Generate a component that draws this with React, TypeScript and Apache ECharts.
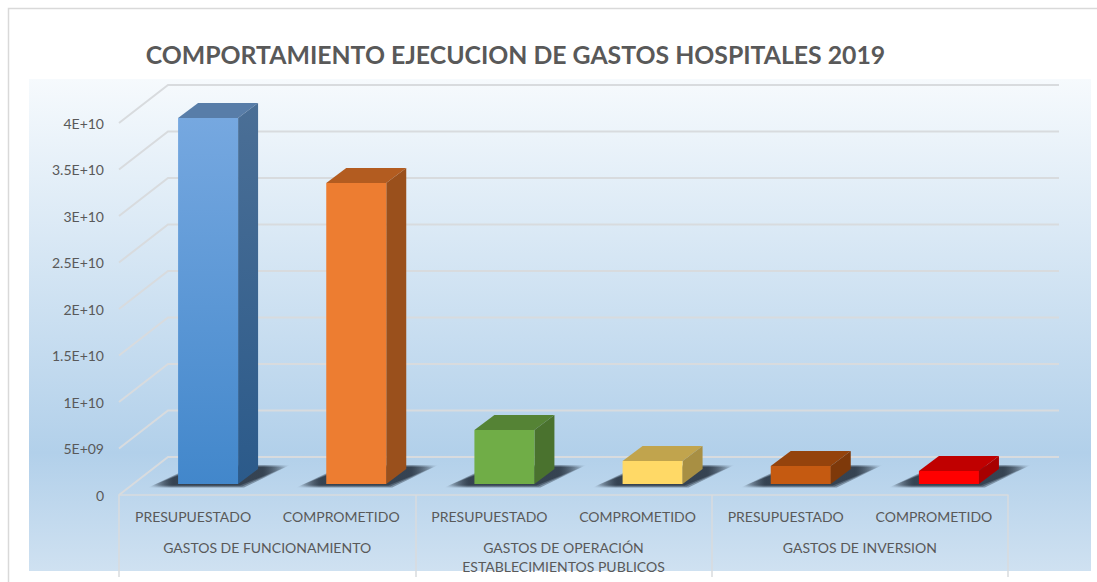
import React, { useEffect, useRef } from "react";
import * as echarts from "echarts";

const TITLE = "COMPORTAMIENTO EJECUCION DE GASTOS HOSPITALES 2019";
const concepts = ["PRESUPUESTADO", "COMPROMETIDO", "PRESUPUESTADO", "COMPROMETIDO", "PRESUPUESTADO", "COMPROMETIDO"];
const groups = ["GASTOS DE FUNCIONAMIENTO", "GASTOS DE OPERACIÓN\nESTABLECIMIENTOS PUBLICOS", "GASTOS DE INVERSION"];
const values = [3.935e10, 3.237e10, 5.8e9, 2.47e9, 1.94e9, 1.4e9];
const yTickValues = [0, 5e9, 1e10, 1.5e10, 2e10, 2.5e10, 3e10, 3.5e10, 4e10];
const yTickLabels = ["0", "5E+09", "1E+10", "1.5E+10", "2E+10", "2.5E+10", "3E+10", "3.5E+10", "4E+10"];

const faces = [
  { front: ["#76a8e0", "#4287cb"], side: ["#4b6f96", "#2b5a8a"], top: "#587da8" },
  { front: ["#ed7d31", "#ed7d31"], side: ["#9a501c", "#9a501c"], top: "#b35c20" },
  { front: ["#70ad47", "#70ad47"], side: ["#4a722e", "#4a722e"], top: "#558335" },
  { front: ["#ffd966", "#ffd966"], side: ["#a88f43", "#a88f43"], top: "#c1a44d" },
  { front: ["#c55a11", "#c55a11"], side: ["#7e390a", "#7e390a"], top: "#94430c" },
  { front: ["#ff0000", "#ff0000"], side: ["#a80000", "#a80000"], top: "#c00000" },
];

const FONT = "Lato";
const TEXT = "#595959";
const LINE = "#d8dbde";
const WALL_DX = 49;
const WALL_DY = -38;
const BAR_DX = 20;
const BAR_DY = -15;
const BAR_SHIFT_X = 15;
const BAR_SHIFT_Y = -11;
const BAR_RATIO = 60 / 148.17;

const frameItem = (params: any, api: any) => {
  const cs = params.coordSys;
  const p = api.coord([0, api.value(1)]);
  const y = p[1];
  return {
    type: "polyline",
    shape: {
      points: [
        [cs.x, y],
        [cs.x + WALL_DX, y + WALL_DY],
        [cs.x + cs.width + WALL_DX + 2, y + WALL_DY],
      ],
    },
    style: { fill: "none", stroke: LINE, lineWidth: 2 },
    silent: true,
  };
};

const barItem = (params: any, api: any) => {
  const i = api.value(0);
  const top = api.coord([i, api.value(1)]);
  const base = api.coord([i, 0]);
  const w = api.size([1, 0])[0] * BAR_RATIO;
  const l = top[0] - w / 2 + BAR_SHIFT_X;
  const r = l + w;
  const t = top[1] + BAR_SHIFT_Y;
  const b = base[1] + BAR_SHIFT_Y;
  const f = faces[params.dataIndex];
  const grad = (c: string[]) => new echarts.graphic.LinearGradient(0, 0, 0, 1, [
    { offset: 0, color: c[0] },
    { offset: 1, color: c[1] },
  ]);
  const fade = (dark: number) => new echarts.graphic.LinearGradient(0, 0, 1, 0, [
    { offset: 0, color: "rgba(38,50,64,0)" },
    { offset: 0.16, color: `rgba(38,50,64,${dark})` },
    { offset: 0.82, color: `rgba(38,50,64,${dark})` },
    { offset: 1, color: "rgba(38,50,64,0)" },
  ]);
  const shadow = (grow: number, dark: number) => ({
    type: "polygon",
    shape: {
      points: [
        [l - 28 - grow, b + 2.5 + grow / 2],
        [r + 4 + grow, b + 2.5 + grow / 2],
        [r + 50 + grow, b - 18 - grow / 2],
        [l + 20 - grow, b - 18 - grow / 2],
      ],
    },
    style: { fill: fade(dark) },
  });
  return {
    type: "group",
    silent: true,
    children: [
      shadow(2, 0.4),
      shadow(0, 0.5),
      shadow(-2, 0.65),
      {
        type: "polygon",
        shape: { points: [[l, t], [l + BAR_DX, t + BAR_DY], [r + BAR_DX, t + BAR_DY], [r, t]] },
        style: { fill: f.top },
      },
      {
        type: "polygon",
        shape: { points: [[r, t], [r + BAR_DX, t + BAR_DY], [r + BAR_DX, b + BAR_DY], [r, b]] },
        style: { fill: grad(f.side) },
      },
      {
        type: "rect",
        shape: { x: l, y: t, width: w, height: b - t },
        style: { fill: grad(f.front) },
      },
    ],
  };
};

export default function App() {
  const ref = useRef<HTMLDivElement>(null);
  useEffect(() => {
    document.body.style.margin = "0";
    const chart = echarts.init(ref.current!, null, { renderer: "svg" });
    chart.setOption({
      animation: false,
      backgroundColor: "#ffffff",
      title: {
        text: TITLE,
        left: 510.5,
        top: 37,
        textAlign: "center",
        textStyle: { fontFamily: FONT, fontWeight: "bold", fontSize: 24.8, color: TEXT },
      },
      graphic: [
        {
          type: "rect",
          z: -10,
          silent: true,
          shape: { x: 8.5, y: 8.5, width: 1120, height: 600 },
          style: { fill: "#ffffff", stroke: "#d9d9d9", lineWidth: 1.5 },
        },
        {
          type: "rect",
          z: -9,
          silent: true,
          shape: { x: 29, y: 79, width: 1062, height: 492 },
          style: {
            fill: new echarts.graphic.LinearGradient(0, 0, 0, 1, [
              { offset: 0, color: "#f6fafd" },
              { offset: 0.76, color: "#b2d0ea" },
              { offset: 1, color: "#cfe1f1" },
            ]),
          },
        },
      ],
      grid: { left: 119, top: 123, width: 889, height: 372 },
      xAxis: [
        {
          type: "category",
          position: "bottom",
          data: concepts,
          axisLine: { show: false },
          axisTick: { show: false },
          axisLabel: { interval: 0, margin: 14, fontFamily: FONT, fontSize: 14, color: TEXT },
        },
        {
          type: "category",
          position: "bottom",
          data: groups,
          axisLine: { show: true, lineStyle: { color: LINE, width: 1.5 } },
          axisTick: { show: true, length: 82, lineStyle: { color: LINE, width: 1.5 } },
          axisLabel: {
            interval: 0,
            margin: 43,
            fontFamily: FONT,
            fontSize: 14,
            lineHeight: 19,
            color: TEXT,
          },
        },
      ],
      yAxis: {
        type: "value",
        min: 0,
        max: 4e10,
        interval: 5e9,
        axisLine: { show: false },
        axisTick: { show: false },
        splitLine: { show: false },
        axisLabel: {
          margin: 15,
          fontFamily: FONT,
          fontSize: 14,
          color: TEXT,
          formatter: (v: number) => yTickLabels[yTickValues.indexOf(v)] ?? "",
        },
      },
      series: [
        {
          type: "custom",
          name: "frame",
          xAxisIndex: 0,
          renderItem: frameItem,
          encode: { x: 0, y: 1 },
          data: yTickValues.map((v) => [0, v]),
          clip: false,
          z: 1,
        },
        {
          type: "custom",
          name: "Gastos",
          xAxisIndex: 0,
          renderItem: barItem,
          encode: { x: 0, y: 1 },
          data: values.map((v, i) => [i, v]),
          clip: false,
          z: 2,
        },
      ],
    });
    return () => chart.dispose();
  }, []);
  return <div ref={ref} style={{ width: 1097, height: 582 }} />;
}
